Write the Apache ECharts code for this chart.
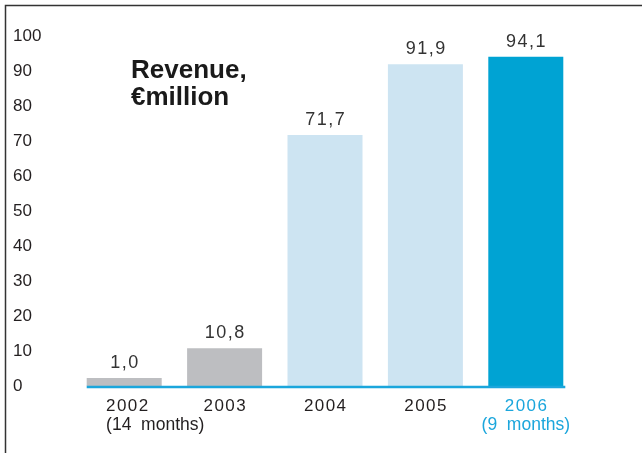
<!DOCTYPE html>
<html>
<head>
<meta charset="utf-8">
<script src="https://cdn.jsdelivr.net/npm/echarts@6/dist/echarts.min.js"></script>
<style>
  html, body { margin: 0; padding: 0; background: #fff; }
  #chart { width: 642px; height: 453px; }
</style>
</head>
<body>
<div id="chart"></div>
<script>
// Revenue by financial year, € million
const categories = ['2002', '2003', '2004', '2005', '2006'];
const periodNotes = ['(14  months)', '', '', '', '(9  months)'];
const revenue = [1.0, 10.8, 71.7, 91.9, 94.1];

const barColors = ['#bdbec1', '#bdbec1', '#cde4f2', '#cde4f2', '#00a3d3'];
const accent = '#1ba6dc';
const textColor = '#231f20';
const FONT = 'Liberation Sans, Arial, sans-serif';
const BAR_W = 75;

// spread characters apart a little, like the tracked type of the print layout
const spaced = (s, sep) => s.split('').join(sep);
const fmtValue = v => spaced(v.toFixed(1).replace('.', ','), '\u200A');

const chart = echarts.init(document.getElementById('chart'), null, { renderer: 'canvas' });

const option = {
  animation: false,
  backgroundColor: '#fff',
  title: {
    text: 'Revenue,\n€million',
    left: 131,
    top: 57,
    padding: 0,
    textStyle: {
      fontFamily: FONT,
      fontSize: 26,
      fontWeight: 'bold',
      lineHeight: 27,
      color: '#1a1a1a'
    }
  },
  grid: { left: 74, right: 66, top: 36, bottom: 67 },
  xAxis: {
    type: 'category',
    data: categories,
    axisLine: { show: false },
    axisTick: { show: false },
    axisLabel: {
      margin: 10,
      interval: 0,
      fontFamily: FONT,
      formatter: (val, idx) => {
        const last = idx === categories.length - 1;
        const first = idx === 0;
        const yk = last ? 'yb' : (first ? 'ya' : 'y');
        const nk = last ? 'nb' : (first ? 'na' : 'n');
        let s = '{' + yk + '|' + spaced(val, '\u200A') + '}';
        if (periodNotes[idx]) s += '\n{' + nk + '|' + periodNotes[idx] + '}';
        return s;
      },
      rich: {
        y:  { fontSize: 17, lineHeight: 20, color: textColor, fontFamily: FONT },
        ya: { fontSize: 17, lineHeight: 20, color: textColor, fontFamily: FONT, align: 'left', padding: [0, 0, 0, 62] },
        yb: { fontSize: 17, lineHeight: 20, color: accent, fontFamily: FONT },
        n:  { fontSize: 17.5, lineHeight: 18, color: textColor, fontFamily: FONT },
        na: { fontSize: 17.5, lineHeight: 18, color: textColor, fontFamily: FONT, align: 'left', padding: [0, 0, 0, 62] },
        nb: { fontSize: 17.5, lineHeight: 18, color: accent, fontFamily: FONT }
      }
    }
  },
  yAxis: {
    type: 'value',
    min: 0,
    max: 100,
    interval: 10,
    axisLine: { show: false },
    axisTick: { show: false },
    splitLine: { show: false },
    axisLabel: {
      align: 'left',
      margin: 61,
      fontSize: 17,
      color: textColor,
      fontFamily: FONT
    }
  },
  series: [{
    type: 'bar',
    data: revenue.map((v, i) => ({ value: v, itemStyle: { color: barColors[i] } })),
    barWidth: BAR_W,
    barMinHeight: 8,
    label: {
      show: true,
      position: 'top',
      distance: 6,
      fontSize: 18,
      color: '#333',
      fontFamily: FONT,
      formatter: p => fmtValue(p.value)
    }
  }]
};

chart.setOption(option);

// baseline running under the bars, from the first bar's left edge to the last bar's right edge
const xFirst = chart.convertToPixel({ xAxisIndex: 0 }, 0) - BAR_W / 2;
const xLast = chart.convertToPixel({ xAxisIndex: 0 }, categories.length - 1) + BAR_W / 2 + 2;
const yZero = chart.convertToPixel({ yAxisIndex: 0 }, 0) + 1;

chart.setOption({
  graphic: [
    {
      type: 'line',
      shape: { x1: xFirst, y1: yZero, x2: xLast, y2: yZero },
      style: { stroke: accent, lineWidth: 2.5 },
      z: 10
    },
    {
      // page frame, top and left edges
      type: 'polyline',
      shape: { points: [[5.5, 453], [5.5, 5.5], [642, 5.5]] },
      style: { stroke: '#333', lineWidth: 1.5, fill: null },
      z: 10
    }
  ]
});
</script>
</body>
</html>
